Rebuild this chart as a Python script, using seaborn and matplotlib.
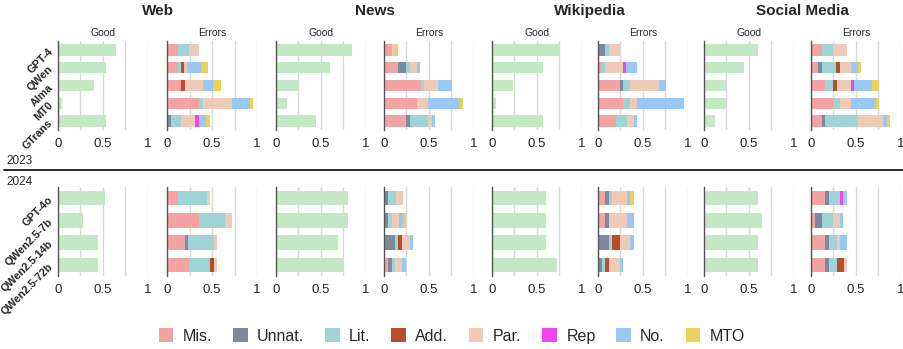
import pandas as pd
import seaborn as sns
import matplotlib.pyplot as plt
from matplotlib.patches import Patch

domains = ["Web", "News", "Wikipedia", "Social Media"]
models_2023 = ["GPT-4", "QWen", "Alma", "MT0", "GTrans"]
models_2024 = ["GPT-4o", "QWen2.5-7b", "QWen2.5-14b", "QWen2.5-72b"]
error_types = ["Mis.", "Unnat.", "Lit.", "Add.", "Par.", "Rep", "No.", "MTO"]
error_colors = ["#f4a3a3", "#7b8aa1", "#9fd4d6", "#b5502a",
                "#efcbb7", "#ee45ee", "#98c8f6", "#ebd15a"]
good_color = "#c4e7c4"

good_2023 = {
    "Web": [0.64, 0.53, 0.40, 0.04, 0.53],
    "News": [0.845, 0.60, 0.245, 0.12, 0.44],
    "Wikipedia": [0.76, 0.565, 0.235, 0.04, 0.565],
    "Social Media": [0.60, 0.44, 0.24, 0.24, 0.12],
}
good_2024 = {
    "Web": [0.52, 0.28, 0.44, 0.44],
    "News": [0.80, 0.80, 0.685, 0.76],
    "Wikipedia": [0.605, 0.605, 0.605, 0.72],
    "Social Media": [0.605, 0.64, 0.605, 0.605],
}

# columns follow error_types: Mis, Unnat, Lit, Add, Par, Rep, No, MTO
errors_2023 = {
    "Web": [
        [0.12, 0, 0.12, 0, 0.12, 0, 0, 0],
        [0.12, 0, 0.03, 0.04, 0.03, 0, 0.16, 0.07],
        [0.155, 0, 0, 0.04, 0.20, 0, 0.12, 0.08],
        [0.36, 0, 0.04, 0, 0.32, 0, 0.20, 0.03],
        [0, 0.04, 0.12, 0, 0.155, 0.04, 0.08, 0.04],
    ],
    "News": [
        [0.085, 0, 0, 0, 0.04, 0, 0, 0.035],
        [0.16, 0.09, 0.035, 0, 0.08, 0, 0.04, 0],
        [0.41, 0, 0.035, 0, 0.16, 0, 0.155, 0],
        [0.365, 0, 0, 0, 0.12, 0, 0.36, 0.035],
        [0.25, 0.035, 0.20, 0, 0.045, 0, 0.035, 0],
    ],
    "Wikipedia": [
        [0, 0.075, 0.045, 0, 0.12, 0, 0, 0],
        [0.037, 0, 0.037, 0, 0.20, 0.04, 0.12, 0],
        [0.24, 0.035, 0.085, 0, 0.32, 0, 0.08, 0],
        [0.275, 0, 0.085, 0, 0.075, 0, 0.525, 0],
        [0.20, 0, 0.12, 0, 0.08, 0, 0.037, 0],
    ],
    "Social Media": [
        [0.12, 0, 0.12, 0, 0.165, 0, 0, 0],
        [0.08, 0.037, 0.165, 0.037, 0.12, 0, 0.08, 0.04],
        [0.16, 0, 0.08, 0.045, 0.155, 0.04, 0.20, 0.08],
        [0.24, 0, 0.08, 0, 0.12, 0, 0.28, 0.04],
        [0.12, 0.04, 0.36, 0, 0.28, 0, 0.04, 0.037],
    ],
}
errors_2024 = {
    "Web": [
        [0.125, 0, 0.315, 0, 0.04, 0, 0, 0],
        [0.36, 0, 0.28, 0, 0.08, 0, 0, 0],
        [0.20, 0.037, 0.285, 0, 0.037, 0, 0, 0],
        [0.24, 0, 0.24, 0.04, 0.037, 0, 0, 0],
    ],
    "News": [
        [0, 0.05, 0.08, 0, 0.08, 0, 0, 0],
        [0, 0.05, 0.035, 0, 0.08, 0, 0.045, 0.035],
        [0, 0.125, 0.035, 0.045, 0.08, 0, 0.04, 0],
        [0.05, 0.035, 0.04, 0, 0.08, 0, 0.04, 0],
    ],
    "Wikipedia": [
        [0.075, 0.045, 0.04, 0, 0.16, 0, 0.04, 0.037],
        [0.075, 0.045, 0, 0, 0.20, 0, 0.08, 0],
        [0, 0.12, 0.04, 0.08, 0.12, 0, 0.037, 0],
        [0, 0.04, 0.035, 0.045, 0.12, 0, 0.037, 0],
    ],
    "Social Media": [
        [0.16, 0.045, 0.115, 0, 0, 0.04, 0.04, 0],
        [0.04, 0.08, 0.12, 0, 0.08, 0, 0.04, 0],
        [0.16, 0.045, 0.08, 0, 0.037, 0, 0.08, 0],
        [0.16, 0.045, 0.08, 0.08, 0.04, 0, 0, 0],
    ],
}

sns.set_theme(style="white")
plt.rcParams["font.family"] = ["Liberation Sans", "DejaVu Sans"]

W, H = 904, 349
fig = plt.figure(figsize=(W / 100, H / 100), dpi=100)

ax_lefts = [58, 167, 276, 384, 492, 598, 704, 811]
ax_w = 90
panels = [(models_2023, good_2023, errors_2023, 41, 130),
          (models_2024, good_2024, errors_2024, 187, 276)]


def style_axis(ax, models, show_labels):
    ax.set_xlim(0, 1.0)
    ax.set_ylim(len(models) - 0.5, -0.5)
    ax.set_xticks([0, 0.5, 1])
    ax.set_xticklabels(["0", "0.5", "1"])
    ax.set_xticks([0.25, 0.75], minor=True)
    ax.grid(True, axis="x", which="both", color="#d9d9d9", lw=1)
    ax.set_axisbelow(True)
    ax.tick_params(axis="x", length=0, labelsize=9.5, pad=6, colors="#222222")
    ax.tick_params(axis="y", length=0)
    for s in ["top", "right", "bottom"]:
        ax.spines[s].set_visible(False)
    ax.spines["left"].set_color("#555555")
    ax.spines["left"].set_linewidth(1)
    ax.set_xlabel("")
    ax.set_ylabel("")
    if show_labels:
        ax.set_yticks(range(len(models)))
        ax.set_yticklabels(models, rotation=45, fontsize=7.8,
                           fontweight="bold", ha="right", va="center",
                           rotation_mode="anchor")
        ax.tick_params(axis="y", pad=5)
    else:
        ax.set_yticklabels([])


for models, good, errors, top_px, bot_px in panels:
    bottom = 1 - bot_px / H
    height = (bot_px - top_px) / H
    for d, dom in enumerate(domains):
        # Good
        ax_g = fig.add_axes([ax_lefts[2 * d] / W, bottom, ax_w / W, height])
        df_g = pd.DataFrame({"model": models, "value": good[dom]})
        sns.barplot(data=df_g, x="value", y="model", order=models,
                    color=good_color, saturation=1, width=0.65,
                    errorbar=None, linewidth=0, ax=ax_g)
        style_axis(ax_g, models, d == 0)

        # Errors, stacked by overplotting cumulative sums
        ax_e = fig.add_axes([ax_lefts[2 * d + 1] / W, bottom, ax_w / W, height])
        df_e = pd.DataFrame(errors[dom], columns=error_types)
        df_e["model"] = models
        cum = df_e[error_types].cumsum(axis=1)
        for k in range(len(error_types) - 1, -1, -1):
            sub = pd.DataFrame({"model": models, "value": cum[error_types[k]]})
            sns.barplot(data=sub, x="value", y="model", order=models,
                        color=error_colors[k], saturation=1, width=0.65,
                        errorbar=None, linewidth=0, ax=ax_e)
        style_axis(ax_e, models, False)

# titles
for d, dom in enumerate(domains):
    cx = (ax_lefts[2 * d] + ax_lefts[2 * d + 1] + ax_w) / 2 / W
    fig.text(cx, 1 - 11 / H, dom, ha="center", va="center",
             fontsize=11, fontweight="bold")
    fig.text((ax_lefts[2 * d] + ax_w / 2) / W, 1 - 33 / H, "Good",
             ha="center", va="center", fontsize=7.5)
    fig.text((ax_lefts[2 * d + 1] + ax_w / 2) / W, 1 - 33 / H, "Errors",
             ha="center", va="center", fontsize=7.5)

fig.text(6 / W, 1 - 161 / H, "2023", ha="left", va="center", fontsize=8.5)
fig.text(6 / W, 1 - 182 / H, "2024", ha="left", va="center", fontsize=8.5)
fig.add_artist(plt.Line2D([4 / W, 1], [1 - 170 / H, 1 - 170 / H],
                          color="black", lw=1.2))

handles = [Patch(facecolor=c, edgecolor="none") for c in error_colors]
fig.legend(handles, error_types, loc="center", ncol=8,
           bbox_to_anchor=(0.5, 1 - 336 / H), frameon=False, fontsize=11.5,
           handlelength=0.9, handleheight=0.9, handletextpad=0.6,
           columnspacing=1.3)

fig.savefig("out.png", dpi=100)
